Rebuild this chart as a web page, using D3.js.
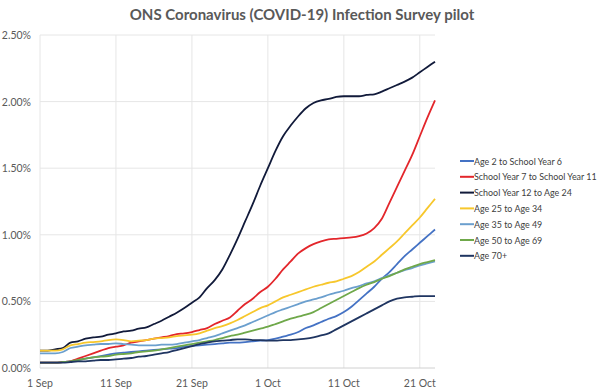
<!DOCTYPE html>
<html>
<head>
<meta charset="utf-8">
<script src="https://cdn.jsdelivr.net/npm/d3@7"></script>
<style>
  body { margin: 0; background: #fff; }
  text { font-family: Lato, "Open Sans", sans-serif; }
</style>
</head>
<body>
<div id="chart"></div>
<script>
// days since 1 Sep, values in percent
const dayCount = 53;

const seriesNames = [
    'Age 2 to School Year 6',
    'School Year 7 to School Year 11',
    'School Year 12 to Age 24',
    'Age 25 to Age 34',
    'Age 35 to Age 49',
    'Age 50 to Age 69',
    'Age 70+'
];
const seriesColors = ['#4472c4', '#e3262b', '#111a3a', '#f7c72c', '#6b9fce', '#6fa84a', '#1f3561'];

const age2toY6 = [0.04, 0.04, 0.04, 0.045, 0.05, 0.06, 0.07, 0.08, 0.09, 0.10, 0.11, 0.115, 0.12, 0.125, 0.13, 0.135, 0.14, 0.145, 0.15, 0.16, 0.165, 0.17, 0.175, 0.18, 0.185, 0.19, 0.19, 0.195, 0.20, 0.205, 0.21, 0.22, 0.235, 0.25, 0.27, 0.30, 0.32, 0.345, 0.37, 0.39, 0.42, 0.46, 0.51, 0.56, 0.61, 0.67, 0.72, 0.78, 0.84, 0.89, 0.94, 0.99, 1.04];
const y7toY11 = [0.04, 0.04, 0.04, 0.045, 0.05, 0.07, 0.09, 0.11, 0.13, 0.15, 0.16, 0.17, 0.19, 0.20, 0.21, 0.22, 0.23, 0.24, 0.255, 0.26, 0.27, 0.285, 0.30, 0.33, 0.355, 0.38, 0.43, 0.48, 0.52, 0.57, 0.61, 0.67, 0.74, 0.80, 0.86, 0.90, 0.93, 0.95, 0.965, 0.97, 0.975, 0.98, 0.99, 1.01, 1.05, 1.12, 1.24, 1.36, 1.48, 1.60, 1.74, 1.88, 2.01];
const y12to24 = [0.13, 0.13, 0.14, 0.15, 0.19, 0.20, 0.22, 0.23, 0.235, 0.25, 0.26, 0.275, 0.28, 0.295, 0.305, 0.33, 0.355, 0.385, 0.415, 0.45, 0.49, 0.53, 0.60, 0.66, 0.74, 0.85, 0.97, 1.10, 1.23, 1.37, 1.50, 1.63, 1.74, 1.82, 1.89, 1.95, 1.99, 2.01, 2.02, 2.035, 2.04, 2.04, 2.04, 2.05, 2.055, 2.075, 2.10, 2.125, 2.15, 2.18, 2.22, 2.26, 2.30];
const age25to34 = [0.13, 0.13, 0.13, 0.14, 0.17, 0.18, 0.19, 0.195, 0.20, 0.21, 0.215, 0.21, 0.20, 0.205, 0.21, 0.22, 0.225, 0.23, 0.24, 0.245, 0.25, 0.26, 0.28, 0.30, 0.315, 0.335, 0.36, 0.39, 0.42, 0.45, 0.47, 0.50, 0.53, 0.55, 0.57, 0.59, 0.61, 0.625, 0.64, 0.65, 0.67, 0.69, 0.72, 0.76, 0.80, 0.85, 0.90, 0.95, 1.01, 1.07, 1.13, 1.20, 1.27];
const age35to49 = [0.11, 0.11, 0.11, 0.12, 0.15, 0.16, 0.17, 0.175, 0.18, 0.18, 0.185, 0.18, 0.175, 0.17, 0.17, 0.17, 0.175, 0.175, 0.18, 0.19, 0.20, 0.21, 0.225, 0.24, 0.26, 0.28, 0.30, 0.32, 0.345, 0.37, 0.395, 0.42, 0.44, 0.46, 0.48, 0.50, 0.515, 0.53, 0.55, 0.565, 0.58, 0.60, 0.615, 0.635, 0.65, 0.675, 0.695, 0.715, 0.735, 0.75, 0.77, 0.785, 0.80];
const age50to69 = [0.04, 0.04, 0.04, 0.045, 0.05, 0.06, 0.07, 0.08, 0.085, 0.09, 0.10, 0.105, 0.11, 0.12, 0.125, 0.13, 0.14, 0.15, 0.16, 0.17, 0.18, 0.19, 0.20, 0.21, 0.225, 0.24, 0.25, 0.265, 0.28, 0.295, 0.31, 0.33, 0.35, 0.37, 0.385, 0.40, 0.42, 0.45, 0.48, 0.51, 0.54, 0.57, 0.60, 0.625, 0.645, 0.67, 0.69, 0.715, 0.74, 0.76, 0.78, 0.795, 0.81];
const age70plus = [0.04, 0.04, 0.04, 0.04, 0.045, 0.05, 0.05, 0.055, 0.06, 0.06, 0.065, 0.07, 0.075, 0.085, 0.09, 0.10, 0.11, 0.12, 0.135, 0.15, 0.165, 0.18, 0.19, 0.20, 0.205, 0.21, 0.215, 0.215, 0.21, 0.21, 0.205, 0.205, 0.21, 0.21, 0.215, 0.22, 0.23, 0.245, 0.26, 0.29, 0.32, 0.35, 0.38, 0.41, 0.44, 0.47, 0.50, 0.52, 0.53, 0.535, 0.54, 0.54, 0.54];

const allSeries = [age2toY6, y7toY11, y12to24, age25to34, age35to49, age50to69, age70plus];

const xTickDays = [0, 10, 20, 30, 40, 50];
const xTickLabels = ['1 Sep', '11 Sep', '21 Sep', '1 Oct', '11 Oct', '21 Oct'];
const yTicks = [0, 0.5, 1.0, 1.5, 2.0, 2.5];

const width = 602, height = 391;
const margin = {top: 35, right: 167, bottom: 23, left: 40};

const svg = d3.select('#chart').append('svg')
    .attr('width', width)
    .attr('height', height);

const x = d3.scaleLinear()
    .domain([0, dayCount - 1])
    .range([margin.left, width - margin.right]);
const y = d3.scaleLinear()
    .domain([0, 2.5])
    .range([height - margin.bottom, margin.top]);

// title
svg.append('text')
    .attr('x', 302)
    .attr('y', 20)
    .attr('text-anchor', 'middle')
    .attr('font-size', 15)
    .attr('font-weight', 'bold')
    .attr('fill', '#595959')
    .text('ONS Coronavirus (COVID-19) Infection Survey pilot');

// gridlines
svg.append('g')
    .selectAll('line')
    .data(yTicks.slice(1))
    .join('line')
    .attr('x1', margin.left)
    .attr('x2', width - margin.right)
    .attr('y1', d => y(d))
    .attr('y2', d => y(d))
    .attr('stroke', '#e6e6e6')
    .attr('stroke-width', 1);

svg.append('g')
    .selectAll('line')
    .data(xTickDays)
    .join('line')
    .attr('x1', d => x(d))
    .attr('x2', d => x(d))
    .attr('y1', y(2.5))
    .attr('y2', y(0))
    .attr('stroke', '#e6e6e6')
    .attr('stroke-width', 1);

// x axis line
svg.append('line')
    .attr('x1', margin.left)
    .attr('x2', width - margin.right)
    .attr('y1', y(0))
    .attr('y2', y(0))
    .attr('stroke', '#d0d0d0');

// y labels
svg.append('g')
    .selectAll('text')
    .data(yTicks)
    .join('text')
    .attr('x', 31)
    .attr('y', d => y(d) + 4)
    .attr('text-anchor', 'end')
    .attr('font-size', 10.5)
    .attr('fill', '#595959')
    .text(d => d3.format('.2f')(d) + '%');

// x labels
svg.append('g')
    .selectAll('text')
    .data(xTickDays)
    .join('text')
    .attr('x', d => x(d))
    .attr('y', 387)
    .attr('text-anchor', 'middle')
    .attr('font-size', 10.5)
    .attr('fill', '#595959')
    .text((d, i) => xTickLabels[i]);

// lines
const line = d3.line()
    .x((d, i) => x(i))
    .y(d => y(d))
    .curve(d3.curveMonotoneX);

svg.append('g')
    .selectAll('path')
    .data(allSeries)
    .join('path')
    .attr('d', line)
    .attr('fill', 'none')
    .attr('stroke', (d, i) => seriesColors[i])
    .attr('stroke-width', 1.8)
    .attr('stroke-linejoin', 'round');

// legend
const legend = svg.append('g')
    .selectAll('g')
    .data(seriesNames)
    .join('g')
    .attr('transform', (d, i) => `translate(460, ${161 + i * 15.8})`);

legend.append('line')
    .attr('x1', 0)
    .attr('x2', 14)
    .attr('stroke', (d, i) => seriesColors[i])
    .attr('stroke-width', 2);

const legendText = legend.append('text')
    .attr('x', 14)
    .attr('y', 3.5)
    .attr('font-size', 10)
    .attr('fill', '#404040')
    .text(d => d);

// shrink legend font so the longest label ends near the right edge
const longest = d3.max(legendText.nodes(), n => n.getComputedTextLength());
const legendSize = Math.min(10, 10 * 123 / longest);
legendText.attr('font-size', legendSize);
</script>
</body>
</html>
